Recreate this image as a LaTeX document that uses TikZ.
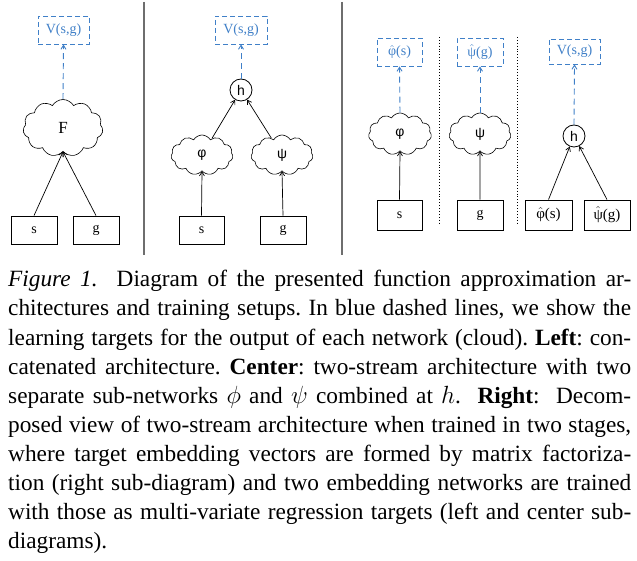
\documentclass[tikz,border=0pt]{standalone}
\usepackage{fontspec}
\setmainfont{Liberation Serif}
\newfontfamily\sansf{Liberation Sans}
\usetikzlibrary{shapes.symbols,shapes.geometric,arrows.meta}
\definecolor{tblue}{RGB}{64,128,200}
\definecolor{sepgray}{RGB}{110,110,110}
\newcommand{\hatphi}{\ensuremath{\hat{\mbox{φ}}}}
\newcommand{\hatpsi}{\ensuremath{\hat{\mbox{ψ}}}}
\newcommand{\capln}[1]{\makebox[623pt][s]{#1}}
\begin{document}
\frenchspacing
\begin{tikzpicture}[x=1pt,y=-1pt,
  inbox/.style={draw,line width=0.8pt,inner sep=0pt,font=\fontsize{14}{16}\selectfont},
  tgtbox/.style={draw=tblue,dashed,dash pattern=on 5pt off 3pt,line width=0.9pt,inner sep=0pt,text=tblue,font=\fontsize{14}{16}\selectfont},
  netcloud/.style={draw,cloud,cloud puffs=11,cloud puff arc=120,line width=0.6pt,inner sep=0pt,font=\fontsize{14}{16}\selectfont\sansf},
  hcirc/.style={draw,circle,line width=0.8pt,inner sep=0pt,minimum size=22pt,font=\fontsize{14}{16}\selectfont\sansf},
  arr/.style={-{Straight Barb[length=4pt,width=5pt]},line width=0.7pt},
  tarr/.style={-{Straight Barb[length=4pt,width=5pt]},draw=tblue,dash pattern=on 6pt off 4pt,line width=0.9pt},
  sepline/.style={draw=sepgray,line width=1.4pt},
  dotsep/.style={draw,dotted,line width=0.9pt},
  capline/.style={anchor=base west,inner sep=0pt,font=\fontsize{23.3}{29}\selectfont}
]
\useasboundingbox (0,0) rectangle (637,561);
\fill[white] (0,0) rectangle (637,561);

% ---------- Left panel ----------
\node[tgtbox,minimum width=51pt,minimum height=28pt] (VL) at (63.5,30) {V(s,g)};
\node[netcloud,minimum width=80pt,minimum height=57pt,font=\fontsize{17}{19}\selectfont] (F) at (63,128) {F};
\node[inbox,minimum width=46pt,minimum height=28pt] (sL) at (34,230) {s};
\node[inbox,minimum width=46pt,minimum height=28pt] (gL) at (96,230) {g};
\draw[arr] (sL.north) -- (F.south);
\draw[arr] (gL.north) -- (F.south);
\draw[tarr] (F.north) -- (VL.south);

\coordinate (sep1a) at (144,2); \coordinate (sep1b) at (144,255);
\draw[sepline] (sep1a) -- (sep1b);

% ---------- Center panel ----------
\node[tgtbox,minimum width=52pt,minimum height=28pt] (VC) at (241,30) {V(s,g)};
\node[hcirc] (hC) at (241,90) {h};
\node[netcloud,minimum width=62pt,minimum height=40pt] (phiC) at (202,155) {φ};
\node[netcloud,minimum width=62pt,minimum height=40pt] (psiC) at (282,155) {ψ};
\node[inbox,minimum width=45pt,minimum height=28pt] (sC) at (201.5,230) {s};
\node[inbox,minimum width=46pt,minimum height=28pt] (gC) at (283,230) {g};
\draw[arr] (sC.north) -- (phiC.south);
\draw[arr] (gC.north) -- (psiC.south);
\draw[arr] (phiC) -- (hC);
\draw[arr] (psiC) -- (hC);
\draw[tarr] (hC.north) -- (VC.south);

\coordinate (sep2a) at (342,2); \coordinate (sep2b) at (342,255);
\draw[sepline] (sep2a) -- (sep2b);

% ---------- Right panel ----------
\node[tgtbox,minimum width=45pt,minimum height=28pt] (phiT) at (399.5,52) {\hatphi(s)};
\node[tgtbox,minimum width=46pt,minimum height=28pt] (psiT) at (480,52) {\hatpsi(g)};
\node[tgtbox,minimum width=51pt,minimum height=25pt] (VR) at (574.5,51.5) {V(s,g)};
\node[netcloud,minimum width=63pt,minimum height=42pt] (phiR) at (400,134) {φ};
\node[netcloud,minimum width=62pt,minimum height=42pt] (psiR) at (480,134) {ψ};
\node[hcirc] (hR) at (574,136) {h};
\node[inbox,minimum width=45pt,minimum height=30pt] (sR) at (399.5,215) {s};
\node[inbox,minimum width=46pt,minimum height=30pt] (gR) at (480,215) {g};
\node[inbox,minimum width=47pt,minimum height=30pt,font=\fontsize{15}{17}\selectfont] (phiB) at (548.5,215) {\hatphi(s)};
\node[inbox,minimum width=46pt,minimum height=30pt,font=\fontsize{15}{17}\selectfont] (psiB) at (607,215) {\hatpsi(g)};
\draw[arr] (sR.north) -- (phiR.south);
\draw[arr] (gR.north) -- (psiR.south);
\draw[arr] (phiB.north) -- (hR);
\draw[arr] (psiB.north) -- (hR);
\draw[tarr] (phiR.north) -- (phiT.south);
\draw[tarr] (psiR.north) -- (psiT.south);
\draw[tarr] (hR.north) -- (VR.south);

\coordinate (d1a) at (439,37); \coordinate (d1b) at (439,225);
\coordinate (d2a) at (517,37); \coordinate (d2b) at (517,225);
\draw[dotsep] (d1a) -- (d1b);
\draw[dotsep] (d2a) -- (d2b);

% ---------- Caption ----------
\node[capline] (c1) at (8,287) {\capln{\textit{Figure 1.}\ \ Diagram of the presented function approximation ar-}};
\node[capline] (c2) at (8,316) {\capln{chitectures and training setups. In blue dashed lines, we show the}};
\node[capline] (c3) at (8,345) {\capln{learning targets for the output of each network (cloud). \textbf{Left}: con-}};
\node[capline] (c4) at (8,374) {\capln{catenated architecture. \textbf{Center}: two-stream architecture with two}};
\node[capline] (c5) at (8,403) {\capln{separate sub-networks $\phi$ and $\psi$ combined at $h$. \ \textbf{Right}: \ Decom-}};
\node[capline] (c6) at (8,432) {\capln{posed view of two-stream architecture when trained in two stages,}};
\node[capline] (c7) at (8,461) {\capln{where target embedding vectors are formed by matrix factoriza-}};
\node[capline] (c8) at (8,490) {\capln{tion (right sub-diagram) and two embedding networks are trained}};
\node[capline] (c9) at (8,519) {\capln{with those as multi-variate regression targets (left and center sub-}};
\node[capline] (c10) at (8,548) {diagrams).};
\end{tikzpicture}
\end{document}
